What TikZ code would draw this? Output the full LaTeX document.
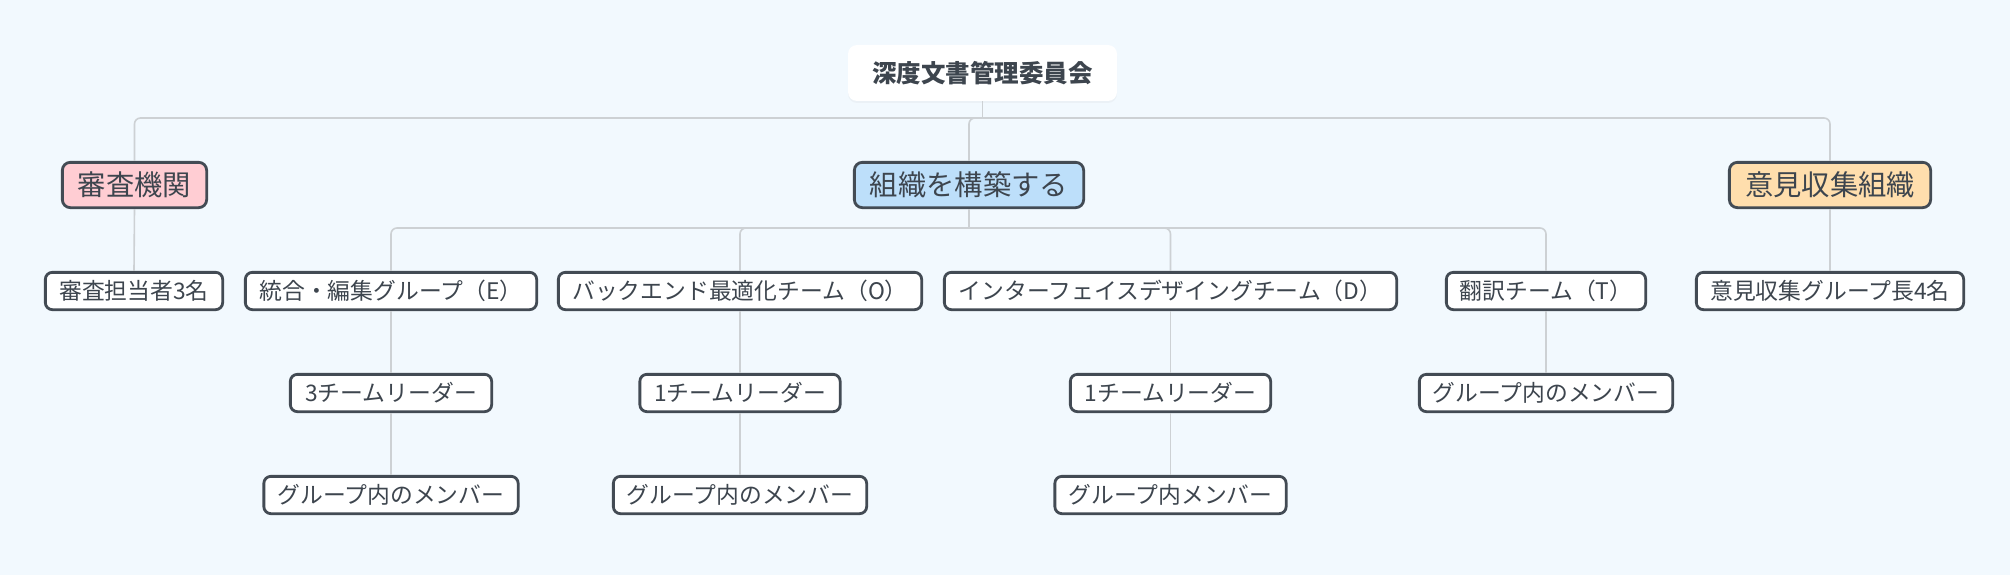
\documentclass[tikz,border=0pt]{standalone}
\usepackage{fontspec}
\setmainfont{Noto Sans CJK JP}
\usetikzlibrary{shadows}
\definecolor{bg}{HTML}{F2F9FE}
\definecolor{bd}{HTML}{434B54}
\definecolor{tx}{HTML}{3D454E}
\definecolor{ln}{HTML}{CDD1D4}
\definecolor{pinkf}{HTML}{FFCDD3}
\definecolor{bluef}{HTML}{BDDFFA}
\definecolor{orangef}{HTML}{FFDEAD}
\tikzset{
  rootbox/.style={fill=white, rounded corners=9pt, text=tx, font=\fontsize{24.5}{28}\selectfont\bfseries,
    minimum width=269pt, minimum height=56pt, inner sep=0pt,
    drop shadow={opacity=0.06, shadow xshift=0pt, shadow yshift=-2pt}},
  topic/.style={draw=bd, line width=2.8pt, rounded corners=8pt, text=tx,
    font=\fontsize{28.3}{32}\selectfont, minimum height=45.3pt, inner sep=0pt},
  item/.style={draw=bd, line width=2.8pt, rounded corners=7pt, fill=white, text=tx,
    font=\fontsize{22.8}{26}\selectfont, minimum height=37.3pt, inner sep=0pt},
  link/.style={draw=ln, line width=1.6pt},
  elbow/.style={link, rounded corners=6pt}
}
\begin{document}
\begin{tikzpicture}[x=1pt,y=-1pt]
\fill[bg] (0,0) rectangle (2010,575);
\useasboundingbox (0,0) rectangle (2010,575);

% root
\node[rootbox] (root) at (982.5,73) {深度文書管理委員会};

% level 1
\node[topic, fill=pinkf, minimum width=144.3pt] (t1) at (134.5,185) {審査機関};
\node[topic, fill=bluef, minimum width=229.3pt] (t2) at (969,185) {組織を構築する};
\node[topic, fill=orangef, minimum width=201.3pt] (t3) at (1830,185) {意見収集組織};

% level 2
\node[item, minimum width=177.3pt] (b1) at (134,291) {審査担当者3名};
\node[item, minimum width=291.3pt] (b2) at (391,291) {統合・編集グループ（E）};
\node[item, minimum width=363.3pt] (b3) at (740,291) {バックエンド最適化チーム（O）};
\node[item, minimum width=452.3pt] (b4) at (1170.5,291) {インターフェイスデザイングチーム（D）};
\node[item, minimum width=199.3pt] (b5) at (1546,291) {翻訳チーム（T）};
\node[item, minimum width=267.3pt] (b6) at (1830,291) {意見収集グループ長4名};

% level 3
\node[item, minimum width=201.3pt] (c2) at (391,393) {3チームリーダー};
\node[item, minimum width=200.3pt] (c3) at (740,393) {1チームリーダー};
\node[item, minimum width=200.3pt] (c4) at (1170.5,393) {1チームリーダー};
\node[item, minimum width=253.3pt] (c5) at (1546,393) {グループ内のメンバー};

% level 4
\node[item, minimum width=254.3pt] (d2) at (391,495) {グループ内のメンバー};
\node[item, minimum width=253.3pt] (d3) at (740,495) {グループ内のメンバー};
\node[item, minimum width=231.3pt] (d4) at (1170.5,495) {グループ内メンバー};

% connectors
\coordinate (j0) at (982.5,118);
\draw[link] (root.south) -- (j0);
\foreach \n in {t1,t2,t3} \draw[elbow] (j0) -| (\n.north);

\coordinate (j1) at (969,228);
\draw[link] (t2.south) -- (j1);
\foreach \n in {b2,b3,b4,b5} \draw[elbow] (j1) -| (\n.north);

\draw[link] (t1.south) -- (b1.north);
\draw[link] (t3.south) -- (b6.north);
\draw[link] (b2.south) -- (c2.north);
\draw[link] (b3.south) -- (c3.north);
\draw[link] (b4.south) -- (c4.north);
\draw[link] (b5.south) -- (c5.north);
\draw[link] (c2.south) -- (d2.north);
\draw[link] (c3.south) -- (d3.north);
\draw[link] (c4.south) -- (d4.north);
\end{tikzpicture}
\end{document}
